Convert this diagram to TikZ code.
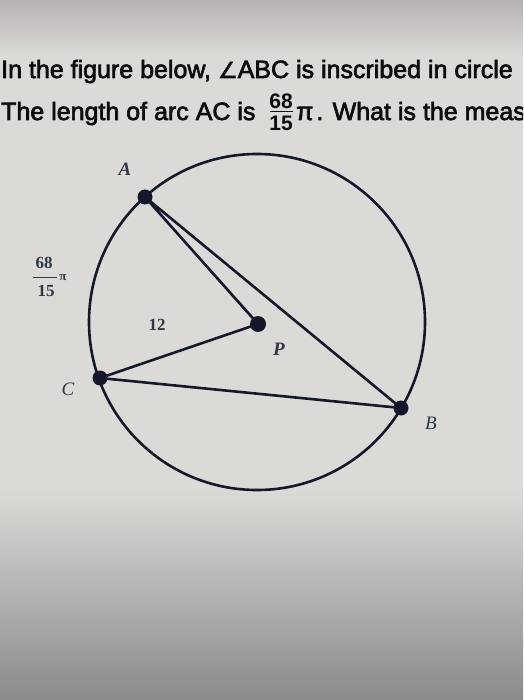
\documentclass[tikz,border=0pt]{standalone}
\usepackage{fontspec}
\setmainfont{Liberation Serif}
\newfontfamily\headfont[FakeBold=2.6]{Liberation Sans}
\newfontfamily\headbold{Liberation Sans}
\newfontfamily\symfont[FakeBold=2.6]{DejaVu Sans}
\definecolor{ink}{HTML}{15182A}
\definecolor{lbl}{HTML}{2E3648}
\definecolor{bgtop}{HTML}{B6B2B2}
\definecolor{bgmid}{HTML}{DCDAD6}
\definecolor{bgbot}{HTML}{8A8A8C}
\tikzset{
  geo/.style={draw=ink, line width=2.6pt, line join=round},
  dot/.style={circle, fill=ink, inner sep=0pt, minimum size=15pt},
  lab/.style={text=lbl, inner sep=0pt, font=\fontsize{19}{19}\selectfont\itshape\bfseries},
  labthin/.style={text=lbl, inner sep=0pt, font=\fontsize{19}{19}\selectfont\itshape},
  num/.style={text=lbl, inner sep=0pt, font=\fontsize{17}{17}\selectfont\bfseries},
  head/.style={text=black!95, font=\headfont\fontsize{25}{25}\selectfont, anchor=base west, inner sep=0pt},
  headnum/.style={text=black!95, font=\headbold\fontsize{21}{21}\selectfont\bfseries, inner sep=0pt}
}
\begin{document}
\begin{tikzpicture}[x=1pt,y=-1pt]
\useasboundingbox (0,0) rectangle (523,700);
\clip (0,0) rectangle (523,700);
\shade[top color=bgtop, bottom color=bgmid] (0,0) rectangle (523,55);
\fill[bgmid] (0,55) rectangle (523,490);
\shade[top color=bgmid, bottom color=bgbot] (0,490) rectangle (523,700);
% heading
\node[head] (h1) at (1,78) {In the figure below, {\symfont\fontsize{22}{22}\selectfont ∠}ABC is inscribed in circle};
\node[head] (h2a) at (1,120) {The length of arc AC is};
\node[headnum] (f68) at (281,101) {68};
\node[headnum] (f15) at (281,123.5) {15};
\draw[black!95, line width=1.4pt] (270,111.5) -- (293,111.5);
\node[head] (h2b) at (296,120) {π\kern3pt. What is the meas};
% circle and points
\coordinate (P) at (258,324);
\draw[geo] (257,322) circle (168);
\node[dot] (A) at (145,197) {};
\node[dot] (C) at (100,378) {};
\node[dot] (B) at (401,408) {};
\node[dot, minimum size=16pt] (Pd) at (P) {};
\draw[geo] (A.center) -- (B.center) -- (C.center) -- (Pd.center) -- (A.center);
% labels
\node[lab] (la) at (125,169) {A};
\node[labthin] (lc) at (68,389) {C};
\node[lab] (lp) at (279,349) {P};
\node[labthin] (lb) at (431,423) {B};
\node[num] (l12) at (157,325) {12};
\node[num] (g68) at (44,262.5) {68};
\node[num] (g15) at (46,291) {15};
\draw[lbl, line width=1pt] (33,277) -- (57,277);
\node[text=lbl, inner sep=0pt, font=\fontsize{13}{13}\selectfont\bfseries] (lpi) at (63,278) {π};
\end{tikzpicture}
\end{document}
